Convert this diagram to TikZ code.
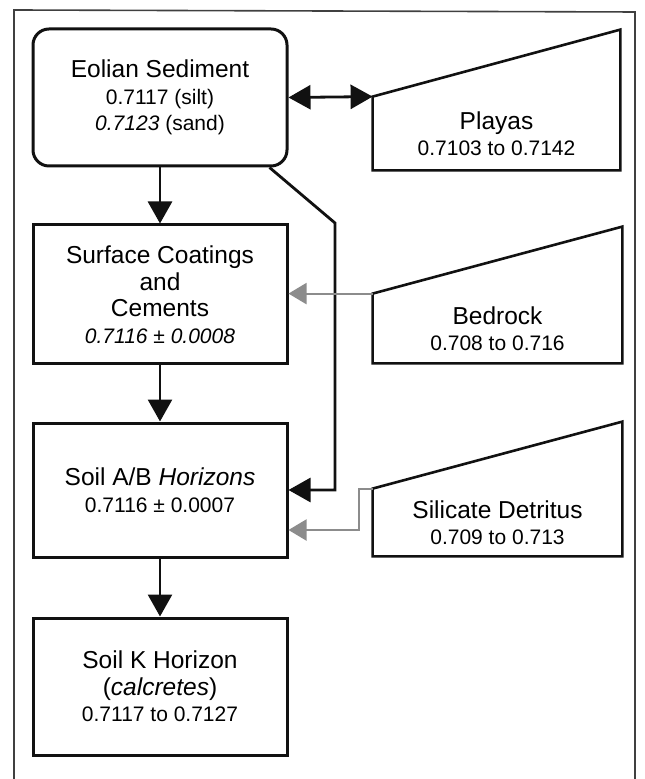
\documentclass[tikz,border=0pt]{standalone}
\usepackage{fontspec}
\setmainfont{Liberation Sans}
\usetikzlibrary{arrows.meta}
\newcommand\boxtitle{\fontsize{12.25}{13.25}\selectfont}
\newcommand\boxval{\fontsize{10.5}{13.25}\selectfont}
\definecolor{cink}{HTML}{111111}
\definecolor{cgray}{HTML}{8C8C8C}
\tikzset{
  box/.style={draw=cink, line width=1.5pt, align=center, inner sep=0pt, minimum width=127pt, font=\boxval},
  src/.style={align=center, inner sep=0pt, minimum width=124.5pt, font=\boxval},
  srcline/.style={draw=cink, line width=1.3pt, line join=miter},
  arrow/.style={-{Triangle[length=11pt,width=12pt]}, draw=cink, line width=1.4pt},
  dblarrow/.style={{Triangle[length=11pt,width=12pt]}-{Triangle[length=11pt,width=12pt]}, draw=cink, line width=1.4pt},
  grayarrow/.style={-{Triangle[length=9pt,width=10.5pt]}, draw=cgray, line width=1pt},
  frame/.style={draw=black!75, line width=0.8pt},
}

\begin{document}
\begin{tikzpicture}[x=0.5pt, y=-0.5pt]
  \useasboundingbox (0,0) rectangle (644,779);
  \draw[frame] (14,779) -- (14,10) -- (635,12) -- (635,779);
  % sediment and soil column
  \node[box, rounded corners=8pt, minimum height=68.5pt] (eol) at (160,97.5) {{\boxtitle Eolian Sediment}\\0.7117 (silt)\\\textit{0.7123} (sand)};
  \node[box, minimum height=69.5pt] (surf) at (160,294.5) {{\boxtitle Surface Coatings}\\{\boxtitle and}\\{\boxtitle Cements}\\\textit{0.7116 ± 0.0008}};
  \node[box, minimum height=67pt] (ab) at (160,490) {{\boxtitle Soil A/B \textit{Horizons}}\\0.7116 ± 0.0007};
  \node[box, minimum height=68.5pt] (kh) at (160,686.5) {{\boxtitle Soil K Horizon}\\{\boxtitle (\textit{calcretes})}\\0.7117 to 0.7127};
  % sources
  \node[src, minimum width=123.5pt, minimum height=36.5pt] (pla) at (496.5,133.5) {{\boxtitle Playas}\\0.7103 to 0.7142};
  \node[src, minimum height=34.5pt] (bed) at (497.5,328.5) {{\boxtitle Bedrock}\\0.708 to 0.716};
  \node[src, minimum height=33.5pt] (sil) at (497.5,522.5) {{\boxtitle Silicate Detritus}\\0.709 to 0.713};
  \foreach \s in {pla,bed,sil}
    \draw[srcline] (\s.south west) -- (\s.north west) -- ([yshift=33.5pt]\s.north east) -- (\s.south east) -- cycle;
  % flows
  \draw[dblarrow] (eol.east) -- (pla.north west);
  \draw[arrow] (eol) -- (surf);
  \draw[arrow] (surf) -- (ab);
  \draw[arrow] (ab) -- (kh);
  \coordinate (bend) at (335,223);
  \draw[arrow] ([xshift=-9.5pt]eol.south east) -- (bend) |- (ab.east);
  \draw[grayarrow] (bed.north west) -- (bed.north west -| surf.east);
  \draw[grayarrow] (sil.north west) -- ++(-7pt,0) |- ([yshift=-20pt]ab.east);
\end{tikzpicture}
\end{document}
